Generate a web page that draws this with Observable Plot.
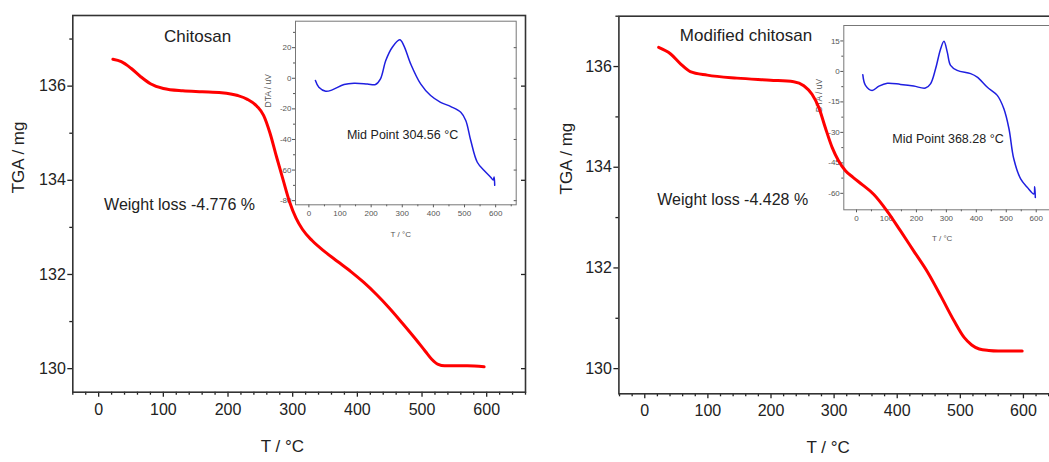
<!DOCTYPE html>
<html><head><meta charset="utf-8">
<script src="https://cdn.jsdelivr.net/npm/d3@7"></script>
<script src="https://cdn.jsdelivr.net/npm/@observablehq/plot@0.6"></script>
<style>
html,body{margin:0;padding:0;background:#fff;overflow:hidden;width:1049px;height:462px}
#root{position:relative;width:1049px;height:462px;overflow:hidden;background:#fff}
#root > svg{position:absolute}
</style></head><body><div id="root"></div>
<script>
// ---- Data: Chitosan (left) ----
const tgaT1 = [22,35,50,65,80,100,130,160,190,215,230,245,255,265,275,285,295,305,315,330,350,370,390,410,430,450,470,490,505,515,525,535,550,570,596];
const tgaW1 = [136.57,136.52,136.38,136.2,136.05,135.95,135.9,135.88,135.86,135.8,135.72,135.57,135.38,135.0,134.5,134.02,133.55,133.2,132.96,132.72,132.48,132.27,132.06,131.83,131.57,131.28,130.96,130.63,130.37,130.2,130.09,130.06,130.06,130.06,130.04];
const dtaT1 = [21,32,54,75,113,145,188,214,230,247,268,292,305,327,359,391,423,456,488,504,520,541,563,584,592,595,597];
const dtaV1 = [-1.5,-5.9,-8.5,-7.6,-4.1,-3.2,-3.7,-4.1,-0.4,11.6,20.3,25.1,21.4,9.4,-3.7,-11.3,-15.7,-18.5,-22.2,-27.6,-40.7,-54.9,-60.3,-64.7,-66.5,-64.5,-70];
// ---- Data: Modified chitosan (right) ----
const tgaT2 = [22,41,57,72,99,146,199,236,252,265,276,286,297,307,318,330,345,363,384,405,426,448,470,490,506,518,530,545,560,598];
const tgaW2 = [136.38,136.25,136.05,135.9,135.83,135.77,135.73,135.7,135.62,135.45,135.18,134.79,134.39,134.13,133.93,133.8,133.65,133.46,133.13,132.74,132.34,131.92,131.42,130.95,130.62,130.47,130.39,130.36,130.35,130.35];
const dtaT2 = [21,30,52,75,103,147,191,230,247,264,281,292,303,314,336,381,403,436,470,492,509,525,548,570,592,595,597];
const dtaV2 = [-1.6,-6.9,-9.4,-7.2,-5.8,-6.4,-7.2,-8.2,-6.1,1.3,11.2,14.8,9.5,3.0,0.5,-1.1,-2.8,-7.7,-11.8,-18.4,-28.2,-43,-52.9,-57,-60.3,-56.8,-62];
// ---- Tick values ----
const xMajor = [0,100,200,300,400,500,600];
const xMinor = [-40,-20,20,40,60,80,120,140,160,180,220,240,260,280,320,340,360,380,420,440,460,480,520,540,560,580,620,640,660];
const yMajor = [130,132,134,136];
const yMinor = [131,133,135,137];
const dtaTicks1 = [20,0,-20,-40,-60,-80];
const dtaMinor1 = [30,10,-10,-30,-50,-70];
const dtaTicks2 = [15,0,-15,-30,-45,-60];
const dtaMinor2 = [7.5,-7.5,-22.5,-37.5,-52.5];
const insetXMinor = [50,150,250,350,450,550,650];
// ---- Labels ----
const titles = ["Chitosan", "Modified chitosan"];
const losses = ["Weight loss -4.776 %", "Weight loss -4.428 %"];
const mids = ["Mid Point 304.56 \u00B0C", "Mid Point 368.28 \u00B0C"];

const FONT = "'Liberation Sans', Arial, Helvetica, sans-serif";
const root = document.getElementById("root");
const intFmt = d => String(d);

function mainPlot(o) {
  const data = o.T.map((t, i) => ({t, w: o.W[i]}));
  const svg = Plot.plot({
    width: o.width, height: 462,
    marginLeft: o.mL, marginRight: o.mR, marginTop: o.mT, marginBottom: o.mB,
    x: {domain: o.xDomain},
    y: {domain: o.yDomain},
    style: {background: "transparent", fontFamily: FONT, fontSize: "16px", color: "#222", overflow: "visible", maxWidth: "none"},
    marks: [
      Plot.axisX(xMajor, {tickSize: 5, tickPadding: 6, fontSize: 16, label: null, strokeWidth: 1.3, tickFormat: intFmt}),
      Plot.axisX(xMinor, {tickSize: 3, fill: "none", label: null, strokeWidth: 1.3}),
      Plot.axisY(yMajor, {anchor: "left", tickSize: 5, tickPadding: 2, fontSize: 16, label: null, strokeWidth: 1.3, tickFormat: intFmt}),
      Plot.axisY(yMinor, {anchor: "left", tickSize: 3, fill: "none", label: null, strokeWidth: 1.3}),
      Plot.axisY(yMajor, {anchor: "right", tickSize: 5, dx: -5, fill: "none", label: null, strokeWidth: 1.3}),
      Plot.frame({stroke: "#333", strokeWidth: 1.6}),
      Plot.line(data, {x: "t", y: "w", stroke: "#f00", strokeWidth: 3, curve: "monotone-x"}),
      Plot.text([{t: o.titlePos[0], w: o.titlePos[1], s: o.title}], {x: "t", y: "w", text: "s", fontSize: 17}),
      Plot.text([{t: o.lossPos[0], w: o.lossPos[1], s: o.loss}], {x: "t", y: "w", text: "s", fontSize: 16}),
      Plot.text([{t: o.xLabelT, s: "T / \u00B0C"}], {x: "t", text: "s", frameAnchor: "bottom", dy: o.xLabelDy, fontSize: 17}),
      Plot.text(["TGA / mg"], {frameAnchor: "left", rotate: -90, dx: o.yLabelDx, dy: o.yLabelDy, fontSize: 17})
    ]
  });
  svg.style.left = o.left + "px"; svg.style.top = "0px"; svg.style.zIndex = 2;
  return svg;
}

function insetPlot(o) {
  const data = o.T.map((t, i) => ({t, v: o.V[i]}));
  const svg = Plot.plot({
    width: o.width, height: o.height,
    marginLeft: o.mL, marginRight: o.mR, marginTop: o.mT, marginBottom: o.mB,
    x: {domain: o.xDomain},
    y: {domain: o.yDomain},
    style: {background: "transparent", fontFamily: FONT, fontSize: "8px", color: "#555", overflow: "visible", maxWidth: "none"},
    marks: [
      Plot.axisX(xMajor, {tickSize: 3, tickPadding: 3, fontSize: 8, label: null, tickFormat: intFmt}),
      Plot.axisX(insetXMinor, {tickSize: 2, fill: "none", label: null}),
      Plot.axisY(o.yTicks, {anchor: "left", tickSize: 3, tickPadding: 1, fontSize: 8, label: null, tickFormat: intFmt}),
      Plot.axisY(o.yMinor, {anchor: "left", tickSize: 2, fill: "none", label: null}),
      Plot.axisY(o.yTicks, {anchor: "right", tickSize: 3, dx: -3, fill: "none", label: null}),
      Plot.frame({stroke: "#777", strokeWidth: 1}),
      Plot.line(data, {x: "t", y: "v", stroke: "#1f1fe0", strokeWidth: 1.5, curve: "catmull-rom"}),
      Plot.text([{t: o.midPos[0], v: o.midPos[1], s: o.mid}], {x: "t", y: "v", text: "s", fontSize: 12.5, fill: "#222"}),
      Plot.text([{t: o.xLabelT, s: "T / \u00B0C"}], {x: "t", text: "s", frameAnchor: "bottom", dy: o.xLabelDy, fontSize: 8}),
      Plot.text(["DTA / uV"], {frameAnchor: "left", rotate: -90, dx: o.yLabelDx, dy: o.yLabelDy, fontSize: 8.5})
    ]
  });
  svg.style.left = o.left + "px"; svg.style.top = "0px"; svg.style.zIndex = 1;
  return svg;
}

root.appendChild(insetPlot({
  T: dtaT1, V: dtaV1, left: 260, width: 270, height: 250,
  mL: 35, mR: 14.3, mT: 20.7, mB: 45.7,
  xDomain: [-43, 666], yDomain: [-82.7, 37.3],
  yTicks: dtaTicks1, yMinor: dtaMinor1,
  mid: mids[0], midPos: [301, -36.8], xLabelT: 295, xLabelDy: 32, yLabelDx: -27, yLabelDy: -5.5
}));
root.appendChild(insetPlot({
  T: dtaT2, V: dtaV2, left: 800, width: 270, height: 260,
  mL: 43.3, mR: 14.5, mT: 25, mB: 50.7,
  xDomain: [-42.4, 666], yDomain: [-68.1, 22.6],
  yTicks: dtaTicks2, yMinor: dtaMinor2,
  mid: mids[1], midPos: [305.5, -33.5], xLabelT: 286, xLabelDy: 31, yLabelDx: -25, yLabelDy: -5.5
}));
root.appendChild(mainPlot({
  T: tgaT1, W: tgaW1, left: 0, width: 530,
  mL: 72.3, mR: 5, mT: 15, mB: 70.3,
  xDomain: [-40, 660], yDomain: [129.5, 137.5],
  title: titles[0], titlePos: [153, 137.05],
  loss: losses[0], lossPos: [125, 133.47],
  xLabelT: 284, xLabelDy: 60, yLabelDx: -54, yLabelDy: -10.5
}));
root.appendChild(mainPlot({
  T: tgaT2, W: tgaW2, left: 530, width: 540,
  mL: 88.4, mR: 9.2, mT: 15.7, mB: 68.7,
  xDomain: [-41, 660], yDomain: [129.5, 137],
  title: titles[1], titlePos: [160.4, 136.62],
  loss: losses[1], lossPos: [139.3, 133.35],
  xLabelT: 290.6, xLabelDy: 59, yLabelDx: -52, yLabelDy: -10.5
}));
</script>
</body></html>
